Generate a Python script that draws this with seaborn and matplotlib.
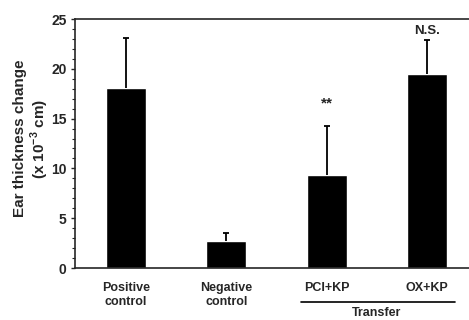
import matplotlib
matplotlib.use("Agg")
import matplotlib.pyplot as plt
import seaborn as sns
import pandas as pd
from matplotlib.ticker import MultipleLocator

categories = ["Positive\ncontrol", "Negative\ncontrol", "PCI+KP", "OX+KP"]
means = [18.1, 2.7, 9.3, 19.5]
errors = [5.0, 0.8, 5.0, 3.4]
annotations = ["", "", "**", "N.S."]
annotation_y = [0, 0, 16.5, 23.8]
annotation_size = [0, 0, 11, 9.5]

sns.set_style("ticks")
plt.rcParams['font.family'] = ['Liberation Sans', 'DejaVu Sans']
plt.rcParams['font.weight'] = 'bold'
plt.rcParams['mathtext.fontset'] = 'custom'
plt.rcParams['mathtext.bf'] = 'Liberation Sans:bold'
plt.rcParams['mathtext.rm'] = 'Liberation Sans:bold'

fig = plt.figure(figsize=(4.69, 3.20), dpi=100)
ax = fig.add_axes([0.16, 0.1625, 0.84, 0.778])

df = pd.DataFrame({"group": categories, "value": means})
sns.barplot(data=df, x="group", y="value", color="black", width=0.4,
            saturation=1, ax=ax, errorbar=None)
tops = [m + e for m, e in zip(means, errors)]
xs = list(range(len(means)))
ax.vlines(xs, means, tops, color="black", lw=1.3)
ax.hlines(tops, [x - 0.03 for x in xs], [x + 0.03 for x in xs], color="black", lw=1.3)

for i, (a, y, fs) in enumerate(zip(annotations, annotation_y, annotation_size)):
    if a:
        ax.text(i, y, a, ha="center", va="center", fontsize=fs,
                fontweight="bold")

ax.set_xlim(-0.51, 3.42)
ax.set_ylim(0, 25)
ax.yaxis.set_major_locator(MultipleLocator(5))
ax.yaxis.set_minor_locator(MultipleLocator(1))
ax.tick_params(axis="y", which="major", length=3, width=1, labelsize=10, pad=3)
ax.tick_params(axis="y", which="minor", length=2, width=0.8)
ax.tick_params(axis="x", length=0, labelsize=9, pad=10)
for lbl in ax.get_xticklabels() + ax.get_yticklabels():
    lbl.set_fontweight("bold")

ax.spines["right"].set_visible(False)
ax.spines["top"].set_visible(True)
for s in ["left", "bottom", "top"]:
    ax.spines[s].set_linewidth(1.2)

ax.set_xlabel("")
ax.set_ylabel("Ear thickness change\n(x 10$^{\\mathbf{-3}}$ cm)", fontsize=11,
              fontweight="bold", linespacing=1.15)
ax.yaxis.set_label_coords(-0.06, 0.52)

# Transfer bracket
ax.plot([1.74, 3.28], [-0.135, -0.135], transform=ax.get_xaxis_transform(),
        color="black", lw=1.2, clip_on=False)
ax.text(2.5, -0.155, "Transfer", transform=ax.get_xaxis_transform(),
        ha="center", va="top", fontsize=9, fontweight="bold")

fig.savefig("out.png", dpi=100)
